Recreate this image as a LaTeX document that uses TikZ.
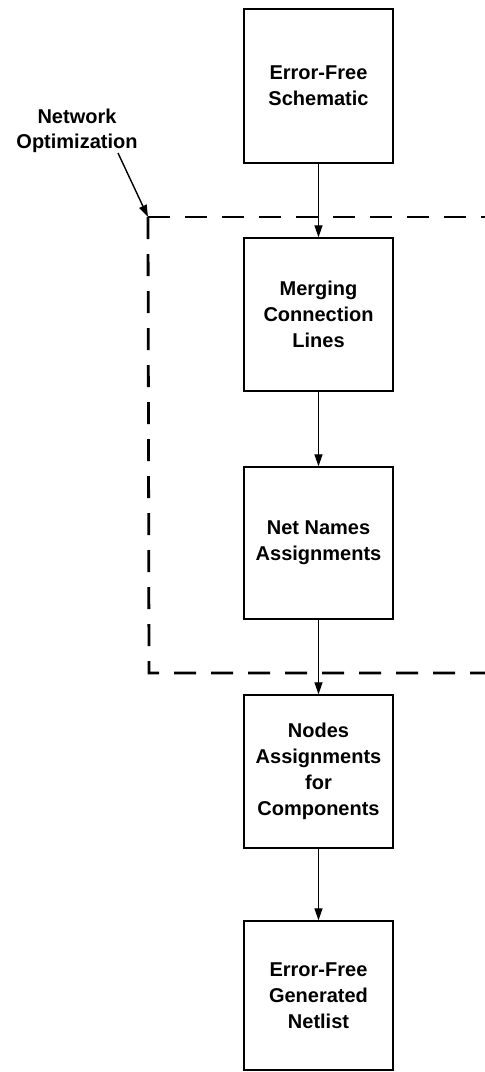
\documentclass[tikz,border=0pt]{standalone}
\usepackage{fontspec}
\setmainfont{Liberation Sans}
\usetikzlibrary{arrows.meta}
\begin{document}
\begin{tikzpicture}[x=1pt,y=-1pt,
  box/.style={draw, line width=1.4pt, minimum width=149pt, inner sep=0pt, align=center,
    font=\fontsize{20}{26}\selectfont\bfseries},
  flow/.style={line width=1.3pt, -{Triangle[length=12pt,width=8pt]}},
  region/.style={line width=2.8pt, dash pattern=on 22pt off 15pt},
  lbl/.style={align=center, font=\fontsize{20}{25}\selectfont\bfseries}]
\useasboundingbox (0,0) rectangle (485,1072);
\node[box, minimum height=154pt] (b1) at (318.5,86) {Error-Free\\Schematic};
\node[box, minimum height=153pt] (b2) at (318.5,314.5) {Merging\\Connection\\Lines};
\node[box, minimum height=152pt] (b3) at (318.5,543) {Net Names\\Assignments};
\node[box, minimum height=153pt] (b4) at (318.5,771.5) {Nodes\\Assignments\\for\\Components};
\node[box, minimum height=149pt] (b5) at (318.5,995.5) {Error-Free\\Generated\\Netlist};
\node[lbl] (net) at (77,131) {Network\\Optimization};
\coordinate (tl) at (148,217);
\coordinate (tr) at (486,217);
\coordinate (bl) at (149,673);
\coordinate (br) at (486,673);
\draw[region] (tl) -- (tr);
\draw[region] (tl) -- (bl) -- (br);
\draw[flow] (b1) -- (b2);
\draw[flow] (b2) -- (b3);
\draw[flow] (b3) -- (b4);
\draw[flow] (b4) -- (b5);
\draw[line width=1.4pt, -{Triangle[length=12pt,width=8pt]}] (118,153) -- (tl);
\end{tikzpicture}
\end{document}
